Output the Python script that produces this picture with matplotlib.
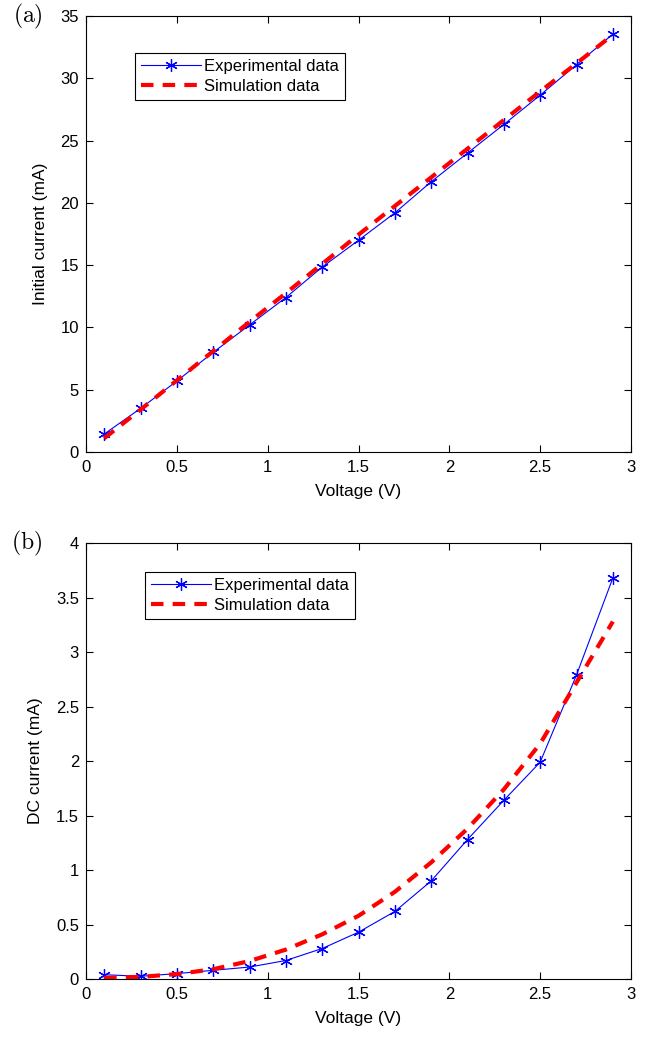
import matplotlib
matplotlib.use('Agg')
import matplotlib.pyplot as plt

plt.rcParams['font.family'] = ['Liberation Sans', 'DejaVu Sans']
plt.rcParams['mathtext.fontset'] = 'cm'

voltage = [0.1, 0.3, 0.5, 0.7, 0.9, 1.1, 1.3, 1.5, 1.7, 1.9, 2.1, 2.3, 2.5, 2.7, 2.9]

init_exp = [1.44, 3.5, 5.7, 8.0, 10.2, 12.4, 14.85, 17.0, 19.2, 21.7, 24.0, 26.3, 28.65, 31.1, 33.55]
init_sim = [1.1, 3.4, 5.75, 8.1, 10.45, 12.75, 15.1, 17.45, 19.75, 22.05, 24.35, 26.65, 28.95, 31.2, 33.5]

dc_exp = [0.04, 0.025, 0.05, 0.08, 0.11, 0.17, 0.28, 0.43, 0.62, 0.90, 1.28, 1.64, 1.99, 2.79, 3.68]
dc_sim = [0.01, 0.02, 0.045, 0.09, 0.165, 0.27, 0.41, 0.58, 0.8, 1.07, 1.38, 1.74, 2.16, 2.72, 3.28]

fig = plt.figure(figsize=(6.58, 10.37), dpi=100)
ax1 = fig.add_axes([0.1307, 0.5641, 0.8283, 0.4204])
ax2 = fig.add_axes([0.1307, 0.0559, 0.8283, 0.4204])

panels = [
    (ax1, init_exp, init_sim, 'Initial current (mA)', (0, 35), range(0, 36, 5), '(a)', (0.09, 0.915)),
    (ax2, dc_exp, dc_sim, 'DC current (mA)', (0, 4), [0, 0.5, 1, 1.5, 2, 2.5, 3, 3.5, 4], '(b)', (0.108, 0.933)),
]

for ax, exp, sim, ylabel, ylim, yticks, tag, leg_pos in panels:
    ax.plot(voltage, exp, '-', color='blue', linewidth=0.8, marker=(6, 2, 0), markersize=9,
            markeredgewidth=0.9, label='Experimental data')
    ax.plot(voltage, sim, '--', color='red', linewidth=3, dashes=(3, 2.2), label='Simulation data')
    ax.set_xlim(0, 3)
    ax.set_ylim(*ylim)
    ax.set_xticks([0, 0.5, 1, 1.5, 2, 2.5, 3])
    ax.set_xticklabels(['0', '0.5', '1', '1.5', '2', '2.5', '3'])
    ax.set_yticks(list(yticks))
    ax.set_yticklabels(['%g' % t for t in yticks])
    ax.tick_params(direction='in', top=True, right=True, labelsize=12, length=5, width=0.8)
    ax.tick_params(axis='x', pad=6)
    ax.tick_params(axis='y', pad=5)
    ax.set_xlabel('Voltage (V)', fontsize=12.5, labelpad=6)
    ax.set_ylabel(ylabel, fontsize=12.5, labelpad=9)
    for s in ax.spines.values():
        s.set_linewidth(0.8)
    leg = ax.legend(loc='upper left', bbox_to_anchor=leg_pos, fontsize=12, fancybox=False,
                    edgecolor='black', framealpha=1, handlelength=3.6, borderpad=0.35,
                    labelspacing=0.3, handletextpad=0.2, borderaxespad=0)
    leg.get_frame().set_linewidth(0.8)
    ax.text(-0.08, 1.0, r'$\mathrm{' + tag + '}$', transform=ax.transAxes, fontsize=17,
            ha='right', va='center')

fig.savefig('out.png', dpi=100)
